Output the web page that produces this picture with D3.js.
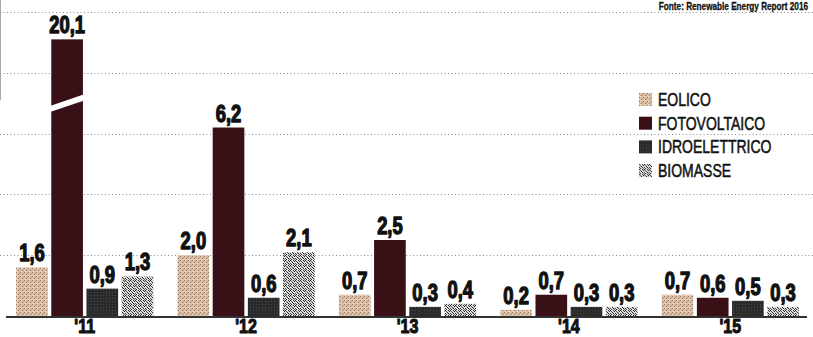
<!DOCTYPE html>
<html><head><meta charset="utf-8">
<script src="https://cdn.jsdelivr.net/npm/d3@7"></script>
<style>
html,body{margin:0;padding:0;background:#fff;}
svg{display:block;}
text{font-family:"Liberation Sans",Arial,sans-serif;}
</style></head>
<body>
<svg id="chart" width="813" height="337"></svg>
<script>
const years = ["'11","'12","'13","'14","'15"];
const seriesNames = ["EOLICO","FOTOVOLTAICO","IDROELETTRICO","BIOMASSE"];
const eolico = [1.6, 2.0, 0.7, 0.2, 0.7];
const fotovoltaico = [20.1, 6.2, 2.5, 0.7, 0.6];
const idroelettrico = [0.9, 0.6, 0.3, 0.3, 0.5];
const biomasse = [1.3, 2.1, 0.4, 0.3, 0.3];
const gridTicks = [2, 4, 6, 8, 10];
const sourceText = "Fonte: Renewable Energy Report 2016";
const displayCap = 9.1; // broken bar drawn up to this value

const seriesValues = [eolico, fotovoltaico, idroelettrico, biomasse];
const fills = ["url(#pEolico)", "#3a1017", "url(#pIdro)", "url(#pBio)"];

const svg = d3.select("#chart");
const W = 813, H = 337;

// patterns
const defs = svg.append("defs");
function pattern(id, size, bg, dots){
  const p = defs.append("pattern").attr("id", id).attr("patternUnits","userSpaceOnUse")
    .attr("width", size).attr("height", size);
  p.append("rect").attr("width", size).attr("height", size).attr("fill", bg);
  dots.forEach(d => p.append("rect").attr("x", d[0]).attr("y", d[1]).attr("width", d[2]||1).attr("height", d[3]||1).attr("fill", d[4]));
}
pattern("pEolico", 4, "#dfc0a6", [[0,0,1,1,"#8c7a66"],[2,2,1,1,"#8c7a66"],[1,3,1,1,"#efe3c8"],[3,1,1,1,"#b89a85"]]);
pattern("pIdro", 3, "#2a2a2a", [[1,1,1,1,"#4a4a4a"]]);
pattern("pBio", 5, "#dcdcdc", [
  [0,0,1,1,"#222"],[3,0,1,1,"#333"],[1,1,1,1,"#555"],[4,1,1,1,"#222"],
  [2,2,1,1,"#222"],[0,3,1,1,"#444"],[3,3,1,1,"#222"],[1,4,1,1,"#333"],[4,4,1,1,"#666"]]);

const x0 = d3.scaleBand().domain(years).range([4, 811]).paddingInner(0.15).paddingOuter(0.075);
const x1 = d3.scaleBand().domain(seriesNames).range([0, x0.bandwidth()]).paddingInner(0.1);
const y = d3.scaleLinear().domain([0, 10]).range([316, 12]);

// scan edge artifact
svg.append("line").attr("x1",0.5).attr("x2",0.5).attr("y1",0).attr("y2",100).attr("stroke","#aaa").attr("stroke-width",1);

// gridlines
svg.append("g").selectAll("line").data(gridTicks).join("line")
  .attr("x1", 0).attr("x2", W)
  .attr("y1", d => Math.round(y(d)) + 0.5).attr("y2", d => Math.round(y(d)) + 0.5)
  .attr("stroke", "#8a8a8a").attr("stroke-width", 1).attr("stroke-dasharray", "1,2.5");

// bars
const rows = [];
years.forEach((yr, i) => seriesNames.forEach((s, j) => rows.push({yr, s, j, v: seriesValues[j][i]})));

const g = svg.append("g");
g.selectAll("rect.bar").data(rows).join("rect").attr("class","bar")
  .attr("x", d => x0(d.yr) + x1(d.s))
  .attr("width", x1.bandwidth())
  .attr("y", d => y(Math.min(d.v, displayCap)))
  .attr("height", d => y(0) - y(Math.min(d.v, displayCap)))
  .attr("fill", d => fills[d.j]);

// break on truncated bars
rows.filter(d => d.v > displayCap).forEach(d => {
  const xl = x0(d.yr) + x1(d.s) - 2, xr = xl + x1.bandwidth() + 4;
  const pts = [[xl, y(6.7)], [xr, y(7.1)], [xr, y(7.3)], [xl, y(6.9)]];
  g.append("path").attr("d", d3.line()(pts) + "Z").attr("fill", "#fff");
});

// value labels (condensed by horizontal scaling)
g.selectAll("text.val").data(rows).join("text").attr("class","val")
  .attr("transform", d => `translate(${x0(d.yr) + x1(d.s) + x1.bandwidth()/2},${y(Math.min(d.v, displayCap)) - 6}) scale(0.8,1)`)
  .attr("text-anchor", "middle")
  .attr("font-size", 23).attr("font-weight", "bold").attr("fill", "#111")
  .attr("stroke", "#111").attr("stroke-width", 1.3).attr("stroke-linejoin", "round")
  .text(d => d3.format(".1f")(d.v).replace(".", ","));

// baseline
svg.append("line").attr("x1", 6).attr("x2", 807).attr("y1", y(0) + 1).attr("y2", y(0) + 1)
  .attr("stroke", "#333").attr("stroke-width", 2);

// x axis labels
svg.append("g").selectAll("text").data(years).join("text")
  .attr("transform", d => `translate(${x0(d) + x0.bandwidth()/2},333) scale(0.8,1)`)
  .attr("text-anchor", "middle")
  .attr("font-size", 20).attr("font-weight", "bold").attr("fill", "#111")
  .attr("stroke", "#111").attr("stroke-width", 1.1).attr("stroke-linejoin", "round")
  .text(d => d);

// legend
const leg = svg.append("g").attr("transform", "translate(639,93)");
const li = leg.selectAll("g").data(seriesNames).join("g")
  .attr("transform", (d, i) => `translate(0,${i * 23.7})`);
li.append("rect").attr("width", 13).attr("height", 13).attr("fill", (d, i) => fills[i]);
li.append("text").attr("transform", "translate(19,13) scale(0.8,1)")
  .attr("font-size", 17.5).attr("fill", "#111").attr("stroke", "#111").attr("stroke-width", 0.5)
  .text(d => d);

// source
svg.append("text").attr("transform", "translate(808,10) scale(0.78,1)").attr("text-anchor", "end")
  .attr("font-size", 10.5).attr("font-weight", "bold").attr("fill", "#111")
  .attr("stroke", "#111").attr("stroke-width", 0.3)
  .text(sourceText);
</script>
</body></html>
